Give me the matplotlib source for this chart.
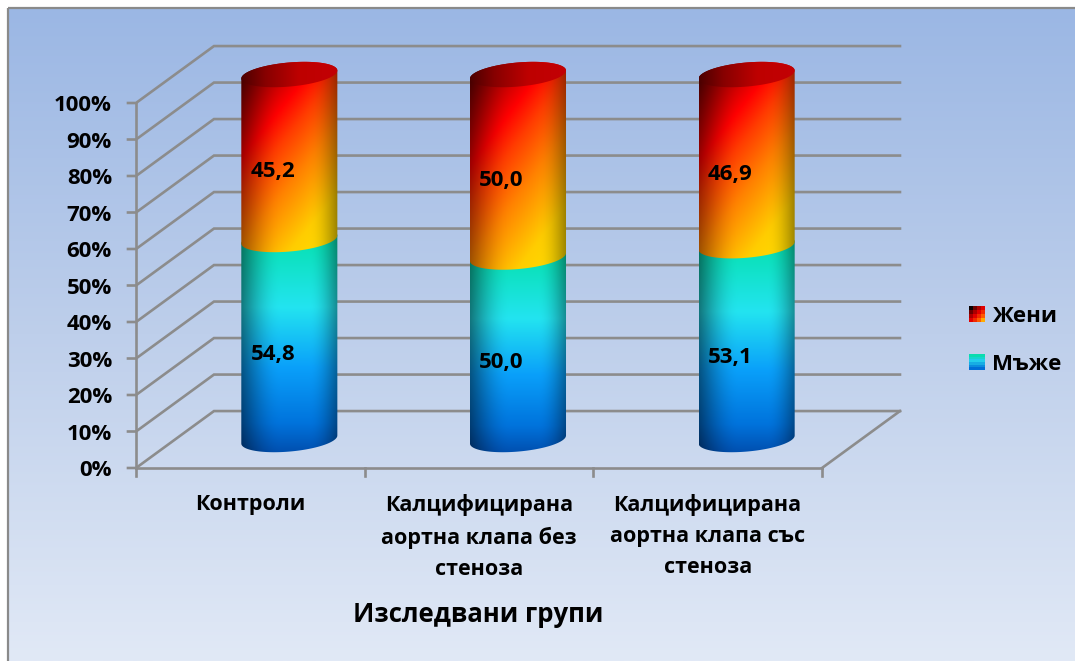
import matplotlib
matplotlib.use('Agg')
import matplotlib.pyplot as plt
import numpy as np
from matplotlib.patches import Polygon

plt.rcParams['font.family'] = ['Open Sans', 'DejaVu Sans']

# chart values
categories = ['Контроли', 'Калцифицирана\nаортна клапа без\nстеноза', 'Калцифицирана\nаортна клапа със\nстеноза']
men = [54.8, 50.0, 53.1]
women = [45.2, 50.0, 46.9]
series_names = ['Жени', 'Мъже']
y_ticks = [0, 10, 20, 30, 40, 50, 60, 70, 80, 90, 100]
x_title = 'Изследвани групи'

W, H = 1075, 661

# 3d look: how far the back wall is shifted from the front plane
DEPTH_X = 0.341
DEPTH_Y = 15.6
# cylinder shape in axis units
RADIUS = 0.21
ELL_B = 3.3
ELL_TILT = 1.1

GRID = '#8c8c8c'


def project(x, y, depth=0.0):
    return x + depth * DEPTH_X, y + depth * DEPTH_Y


def front_arc(cx, level):
    t = np.linspace(np.pi, 0, 80)
    return np.column_stack([cx + RADIUS * np.cos(t), level + ELL_TILT * np.cos(t) - ELL_B * np.sin(t)])


def back_arc(cx, level):
    t = np.linspace(0, np.pi, 80)
    return np.column_stack([cx + RADIUS * np.cos(t), level + ELL_TILT * np.cos(t) + ELL_B * np.sin(t)])


def ramp(pos, stops, colors):
    colors = np.array(colors, dtype=float) / 255
    return np.stack([np.interp(pos, stops, colors[:, i]) for i in range(3)], axis=-1)


def side_shade(u, left_dark=0.52):
    # darker towards both edges of the cylinder, smooth in between
    left = np.clip(u / 0.42, 0, 1)
    right = np.clip((1 - u) / 0.3, 0, 1)
    s = (left_dark + (1 - left_dark) * np.sin(left * np.pi / 2)) * (0.6 + 0.4 * np.sin(right * np.pi / 2))
    return s[..., None]


def women_colors(rows, cols):
    u, v = np.meshgrid(np.linspace(0, 1, cols), np.linspace(0, 1, rows))
    g = v + 0.6 * (u - 0.5)
    base = ramp(g, [-0.2, 0.2, 0.38, 0.64, 0.98, 1.3],
                [(110, 0, 0), (255, 0, 0), (255, 60, 0), (255, 130, 0), (255, 205, 0), (255, 225, 0)])
    return base * side_shade(u, 0.62)


def men_colors(rows, cols):
    u, v = np.meshgrid(np.linspace(0, 1, cols), np.linspace(0, 1, rows))
    base = ramp(v, [0, 0.1, 0.36, 0.62, 0.86, 1],
                [(10, 205, 165), (10, 225, 185), (35, 228, 240), (10, 160, 250), (0, 115, 220), (0, 75, 170)])
    return base * side_shade(u)


def women_swatch():
    u, v = np.meshgrid(np.linspace(0, 1, 4), np.linspace(0, 1, 4))
    return ramp((u + v) / 2, [0, 0.2, 0.5, 0.8, 1],
                [(10, 0, 0), (130, 0, 0), (225, 0, 0), (255, 75, 0), (255, 170, 0)])


def men_swatch():
    v = np.linspace(0, 1, 6)[:, None]
    return ramp(v, [0, 0.4, 1], [(10, 220, 175), (35, 205, 235), (0, 110, 215)])


def draw_clipped(ax, colors, box, outline, z):
    im = ax.imshow(colors, extent=box, aspect='auto', origin='upper', interpolation='bilinear', zorder=z)
    clip = Polygon(outline, closed=True, transform=ax.transData, facecolor='none', edgecolor='none')
    ax.add_patch(clip)
    im.set_clip_path(clip)
    # cylinders stick out above the 100% level of the front plane
    im.set_clip_box(ax.figure.bbox)


def draw_side(ax, cx, low, high, colors, z):
    outline = np.vstack([front_arc(cx, low), back_arc(cx, high)])
    box = (cx - RADIUS, cx + RADIUS, low - ELL_B - ELL_TILT, high + ELL_B + ELL_TILT)
    draw_clipped(ax, colors, box, outline, z)


fig = plt.figure(figsize=(W / 100, H / 100), dpi=100, facecolor='white')

# page layer in pixel units: background, frame, legend and all text
page = fig.add_axes([0, 0, 1, 1])
grad = ramp(np.linspace(0, 1, 300)[:, None], [0, 0.5, 1], [(155, 183, 228), (190, 207, 235), (225, 233, 246)])
page.imshow(grad, extent=(8, W, H, 8), aspect='auto', zorder=0)
page.plot([8, 8], [H, 8], color='#8a8a8a', lw=1.6, zorder=1, solid_capstyle='butt')
page.plot([8, W], [8, 8], color='#8a8a8a', lw=1.6, zorder=1, solid_capstyle='butt')

# legend swatches
page.imshow(women_swatch(), extent=(969, 985, 322, 306), aspect='auto', interpolation='nearest', zorder=2)
page.imshow(men_swatch(), extent=(969, 985, 370, 354), aspect='auto', interpolation='nearest', zorder=2)
page.text(992, 316, series_names[0], fontsize=16, fontweight='bold', va='center', ha='left', zorder=3)
page.text(992, 364, series_names[1], fontsize=16, fontweight='bold', va='center', ha='left', zorder=3)
page.text(478, 615, x_title, fontsize=18.5, fontweight='bold', va='center', ha='center', zorder=3)
page.set_xlim(0, W)
page.set_ylim(H, 0)
page.axis('off')

# plot axes sit on the front plane of the 3d box
ax = fig.add_axes([136 / W, 1 - 468 / H, 686 / W, 365 / H])
ax.patch.set_alpha(0)
ax.axis('off')
n = len(categories)

# gridlines: up the side wall, then along the back wall
for tick in y_ticks:
    x0, y0 = project(0, tick)
    x1, y1 = project(0, tick, 1)
    x2, y2 = project(n, tick, 1)
    ax.plot([x0 - 0.035, x0, x1, x2], [y0, y0, y1, y2], color=GRID, lw=1.9, clip_on=False, zorder=1,
            solid_joinstyle='miter')
    ax.text(-0.105, tick - 0.8, f'{tick}%', fontsize=16, fontweight='bold', ha='right', va='center', clip_on=False)

# axis lines and the open floor edge
ax.plot([0, 0], [0, y_ticks[-1]], color=GRID, lw=1.9, clip_on=False, zorder=1)
ax.plot([0, n], [0, 0], color=GRID, lw=1.9, clip_on=False, zorder=1)
fx, fy = project(n, 0, 1)
ax.plot([n, fx], [0, fy], color=GRID, lw=1.9, clip_on=False, zorder=1)
for i in range(n + 1):
    ax.plot([i, i], [0, -2.2], color=GRID, lw=1.9, clip_on=False, zorder=1)

# stacked cylinders
for i in range(n):
    cx, base = project(i + 0.5, 0, 0.5)
    split = base + men[i]
    top = split + women[i]
    draw_side(ax, cx, base, split, men_colors(300, 200), 2)
    draw_side(ax, cx, split, top, women_colors(300, 200), 3)
    # lid
    lid = np.vstack([front_arc(cx, top), back_arc(cx, top)])
    u = np.linspace(0, 1, 200)[None, :]
    lid_img = ramp(u, [0, 0.25, 0.6, 1], [(75, 0, 0), (135, 0, 0), (190, 0, 0), (195, 0, 5)])
    draw_clipped(ax, lid_img, (cx - RADIUS, cx + RADIUS, top - 6, top + 6), lid, 4)

    # value labels
    lx, ly = project(i + 0.5, men[i] / 2 - 0.7, 0.29)
    ax.text(lx, ly, f'{men[i]:.1f}'.replace('.', ','), fontsize=16, fontweight='bold', ha='center', va='center', zorder=5)
    lx, ly = project(i + 0.5, men[i] + women[i] / 2 - 0.7, 0.29)
    ax.text(lx, ly, f'{women[i]:.1f}'.replace('.', ','), fontsize=16, fontweight='bold', ha='center', va='center', zorder=5)

    # category label under the axis
    ax.text(i + 0.5, -7.1, categories[i], fontsize=15.5, fontweight='bold', ha='center', va='top',
            linespacing=1.62, clip_on=False)

ax.set_xlim(0, n)
ax.set_ylim(0, 100)

fig.savefig('out.png', dpi=100)
